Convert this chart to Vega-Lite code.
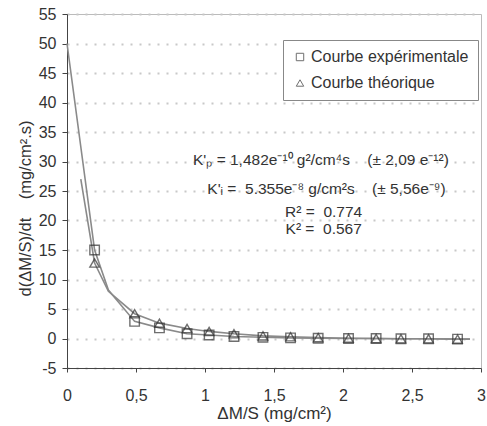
{
  "$schema": "https://vega.github.io/schema/vega-lite/v6.json",
  "width": 414,
  "height": 354,
  "autosize": {"type": "none"},
  "padding": {"left": 67, "top": 14, "right": 6, "bottom": 58},
  "background": "white",
  "config": {
    "font": "Liberation Sans",
    "view": {"stroke": "#bbbbbb", "strokeWidth": 1},
    "axis": {"labelFont": "Liberation Sans", "titleFont": "Liberation Sans", "labelColor": "#333", "titleColor": "#333", "titleFontWeight": "normal", "labelOverlap": false}
  },
  "datasets": {
    "lines": [
      {"serie": "exp", "x": 0.0, "y": 50},
      {"serie": "exp", "x": 0.2, "y": 15},
      {"serie": "exp", "x": 0.3, "y": 8.2},
      {"serie": "exp", "x": 0.49, "y": 2.9},
      {"serie": "exp", "x": 0.67, "y": 1.8},
      {"serie": "exp", "x": 0.87, "y": 0.8},
      {"serie": "exp", "x": 1.03, "y": 0.6},
      {"serie": "exp", "x": 1.21, "y": 0.35},
      {"serie": "exp", "x": 1.42, "y": 0.2},
      {"serie": "exp", "x": 1.62, "y": 0.1},
      {"serie": "exp", "x": 1.82, "y": 0.05},
      {"serie": "exp", "x": 2.04, "y": 0.0},
      {"serie": "exp", "x": 2.24, "y": 0.0},
      {"serie": "exp", "x": 2.42, "y": -0.05},
      {"serie": "exp", "x": 2.62, "y": -0.05},
      {"serie": "exp", "x": 2.83, "y": -0.1},
      {"serie": "exp", "x": 2.92, "y": -0.1},
      {"serie": "theo", "x": 0.1, "y": 27},
      {"serie": "theo", "x": 0.2, "y": 12.8},
      {"serie": "theo", "x": 0.3, "y": 8},
      {"serie": "theo", "x": 0.49, "y": 4.2},
      {"serie": "theo", "x": 0.67, "y": 2.6},
      {"serie": "theo", "x": 0.87, "y": 1.7},
      {"serie": "theo", "x": 1.03, "y": 1.2},
      {"serie": "theo", "x": 1.21, "y": 0.8},
      {"serie": "theo", "x": 1.42, "y": 0.45},
      {"serie": "theo", "x": 1.62, "y": 0.3},
      {"serie": "theo", "x": 1.82, "y": 0.15},
      {"serie": "theo", "x": 2.04, "y": 0.05},
      {"serie": "theo", "x": 2.24, "y": 0.0},
      {"serie": "theo", "x": 2.42, "y": -0.05},
      {"serie": "theo", "x": 2.62, "y": -0.05},
      {"serie": "theo", "x": 2.83, "y": -0.1},
      {"serie": "theo", "x": 2.92, "y": -0.1}
    ],
    "points": [
      {"serie": "Courbe expérimentale", "x": 0.2, "y": 15},
      {"serie": "Courbe expérimentale", "x": 0.49, "y": 2.9},
      {"serie": "Courbe expérimentale", "x": 0.67, "y": 1.8},
      {"serie": "Courbe expérimentale", "x": 0.87, "y": 0.8},
      {"serie": "Courbe expérimentale", "x": 1.03, "y": 0.6},
      {"serie": "Courbe expérimentale", "x": 1.21, "y": 0.35},
      {"serie": "Courbe expérimentale", "x": 1.42, "y": 0.2},
      {"serie": "Courbe expérimentale", "x": 1.62, "y": 0.1},
      {"serie": "Courbe expérimentale", "x": 1.82, "y": 0.05},
      {"serie": "Courbe expérimentale", "x": 2.04, "y": 0.0},
      {"serie": "Courbe expérimentale", "x": 2.24, "y": 0.0},
      {"serie": "Courbe expérimentale", "x": 2.42, "y": -0.05},
      {"serie": "Courbe expérimentale", "x": 2.62, "y": -0.05},
      {"serie": "Courbe expérimentale", "x": 2.83, "y": -0.1},
      {"serie": "Courbe théorique", "x": 0.2, "y": 12.8},
      {"serie": "Courbe théorique", "x": 0.49, "y": 4.2},
      {"serie": "Courbe théorique", "x": 0.67, "y": 2.6},
      {"serie": "Courbe théorique", "x": 0.87, "y": 1.7},
      {"serie": "Courbe théorique", "x": 1.03, "y": 1.2},
      {"serie": "Courbe théorique", "x": 1.21, "y": 0.8},
      {"serie": "Courbe théorique", "x": 1.42, "y": 0.45},
      {"serie": "Courbe théorique", "x": 1.62, "y": 0.3},
      {"serie": "Courbe théorique", "x": 1.82, "y": 0.15},
      {"serie": "Courbe théorique", "x": 2.04, "y": 0.05},
      {"serie": "Courbe théorique", "x": 2.24, "y": 0.0},
      {"serie": "Courbe théorique", "x": 2.42, "y": -0.05},
      {"serie": "Courbe théorique", "x": 2.62, "y": -0.05},
      {"serie": "Courbe théorique", "x": 2.83, "y": -0.1}
    ],
    "notes": [
      {"x": 1.84, "y": 30.2, "text": "K'ₚ = 1,482e⁻¹⁰ g²/cm⁴s\u00a0\u00a0\u00a0 (± 2,09 e⁻¹²)"},
      {"x": 1.88, "y": 25.4, "text": "K'ᵢ =\u00a0 5.355e⁻⁸ g/cm²s\u00a0\u00a0\u00a0 (± 5,56e⁻⁹)"},
      {"x": 1.86, "y": 21.4, "text": "R² =\u00a0 0.774"},
      {"x": 1.86, "y": 18.5, "text": "K² =\u00a0 0.567"}
    ]
  },
  "encoding": {
    "x": {
      "field": "x", "type": "quantitative",
      "scale": {"domain": [0, 3], "nice": false, "zero": false},
      "axis": {
        "title": "ΔM/S (mg/cm²)", "titleFontSize": 17, "titlePadding": 2,
        "values": [0, 0.5, 1, 1.5, 2, 2.5, 3],
        "labelExpr": "replace(format(datum.value, '~g'), '.', ',')",
        "labelFontSize": 16, "labelPadding": 15, "grid": false, "labelOverlap": false,
        "domainColor": "#444", "tickColor": "#444", "tickSize": 4, "labelFlush": false
      }
    },
    "y": {
      "field": "y", "type": "quantitative",
      "scale": {"domain": [-5, 55], "nice": false, "zero": false},
      "axis": {
        "title": "d(ΔM/S)/dt\u00a0\u00a0\u00a0\u00a0(mg/cm².s)", "titleFontSize": 16.5, "titlePadding": 5, "titleY": 194,
        "values": [-5, 0, 5, 10, 15, 20, 25, 30, 35, 40, 45, 50, 55],
        "labelExpr": "replace(format(datum.value, 'd'), '−', '-')",
        "labelFontSize": 16, "labelPadding": 6, "labelOverlap": false, "labelBound": false, "labelSeparation": 0,
        "grid": true, "gridColor": "#c8c8c8", "gridDash": [2, 7], "gridWidth": 2,
        "domainColor": "#444", "tickColor": "#444", "tickSize": 5
      }
    }
  },
  "layer": [
    {
      "data": {"name": "lines"},
      "mark": {"type": "line", "color": "#8a8a8a", "strokeWidth": 1.6},
      "encoding": {
        "detail": {"field": "serie"}
      }
    },
    {
      "data": {"name": "points"},
      "mark": {"type": "point", "filled": false, "color": "#333", "strokeWidth": 1.4, "size": 90},
      "encoding": {
        "shape": {
          "field": "serie", "type": "nominal",
          "scale": {"domain": ["Courbe expérimentale", "Courbe théorique"], "range": ["square", "triangle-up"]},
          "legend": {
            "title": null, "orient": "none", "legendX": 216, "legendY": 26,
            "strokeColor": "#888", "padding": 9, "labelFontSize": 16, "labelFont": "Liberation Sans",
            "symbolSize": 55, "symbolStrokeColor": "#333", "symbolStrokeWidth": 1, "rowPadding": 10,
            "labelColor": "#333", "symbolOffset": 0, "labelOffset": 3, "fillColor": "white"
          }
        }
      }
    },
    {
      "data": {"name": "notes"},
      "mark": {"type": "text", "fontSize": 15.5, "color": "#333", "align": "center", "baseline": "middle", "font": "Liberation Sans"},
      "encoding": {
        "text": {"field": "text"}
      }
    }
  ]
}
